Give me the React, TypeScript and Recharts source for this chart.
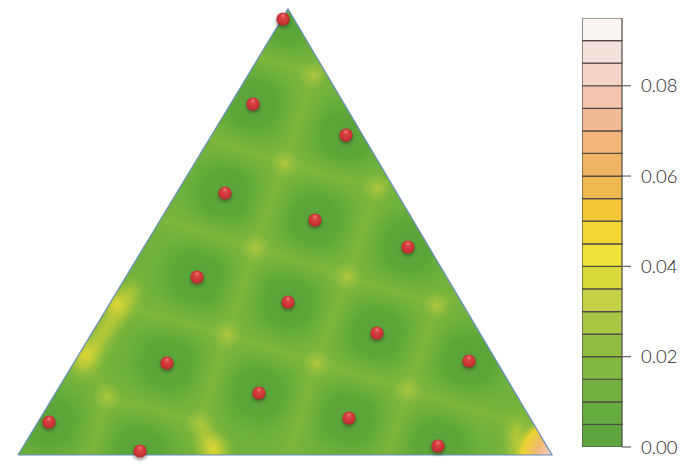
import React from "react";
import { ComposedChart, BarChart, Area, Line, Scatter, Bar, XAxis, YAxis } from "recharts";

type P = { x: number; y: number };
const pts = (a: number[][]): P[] => a.map(([x, y]) => ({ x, y }));

// Sample sites (red spheres)
const siteX = [283, 253, 346, 225, 315, 408, 197, 288, 377, 469, 167, 259, 349, 438, 49, 140];
const siteY = [19, 104, 135, 193, 220, 247, 277, 302, 333, 361, 363, 393, 418, 446, 422, 451];
const sites = siteX.map((x, i) => ({ x, y: siteY[i] }));

// Domain outline
const triangle = pts([[18, 455], [288, 9], [552, 455], [18, 455]]);
const domainFill = [
  { x: 18, range: [455, 455] },
  { x: 288, range: [455, 9] },
  { x: 552, range: [455, 455] },
];
const outsideMask = [
  { x: 0, range: [471, 0] },
  { x: 18, range: [471, 0] },
  { x: 18, range: [455, 0] },
  { x: 288, range: [9, 0] },
  { x: 552, range: [455, 0] },
  { x: 552, range: [471, 0] },
  { x: 700, range: [471, 0] },
];
const belowMask = [
  { x: 18, range: [471, 455] },
  { x: 552, range: [471, 455] },
];

// Error ridges between sites
const ridges: P[][] = [
  pts([[240, 50], [313, 75], [345, 62]]),
  pts([[313, 75], [285, 163], [255, 248], [227, 335], [200, 423], [213, 458]]),
  pts([[205, 138], [285, 163], [377, 188], [405, 172]]),
  pts([[160, 218], [255, 248], [347, 277], [437, 305], [470, 288]]),
  pts([[377, 188], [347, 277], [317, 363], [288, 458]]),
  pts([[112, 303], [227, 335], [317, 363], [408, 390], [517, 423], [540, 410]]),
  pts([[437, 305], [408, 390], [387, 458]]),
  pts([[118, 305], [87, 355], [107, 397], [200, 423]]),
  pts([[107, 397], [90, 458]]),
  pts([[517, 423], [518, 458]]),
];
const hotRidges: P[][] = [
  pts([[134, 286], [78, 372]]),
  pts([[202, 430], [218, 458]]),
  pts([[517, 425], [518, 458]]),
];

const strongGlow = pts([[285, 163], [255, 248], [227, 335], [347, 277], [317, 363], [408, 390], [313, 75], [377, 188], [437, 305], [107, 397], [200, 423]]);
const yellowGlow = pts([[116, 304], [85, 354], [214, 450]]);
const cornerGlow = pts([[552, 455]]);

// Colour bar
const barTicks = [0, 0.02, 0.04, 0.06, 0.08];
const barColors = [
  "#5ca53f", "#66ab3f", "#72b041", "#82b742", "#93bd42", "#a9c744", "#c2d146", "#d9da3c", "#efe23a", "#f3d535",
  "#f3c63a", "#f0b850", "#efb565", "#f2b67a", "#efba94", "#f3c4ae", "#f4d3c8", "#f3e2dc", "#f9f5f3",
];
const barStep = 0.005;
const barRow: Record<string, number | string> = { name: "scale" };
barColors.forEach((_, i) => { barRow["s" + i] = barStep; });

const spot = (fill: string, r: number) => (props: any) => <circle cx={props.cx} cy={props.cy} r={r} fill={`url(#${fill})`} />;

const sphere = (props: any) => (
  <g>
    <ellipse cx={props.cx} cy={props.cy + 2.5} rx={7.2} ry={6.8} fill="#3a3a20" opacity={0.45} filter="url(#soft2)" />
    <circle cx={props.cx} cy={props.cy} r={6.6} fill="url(#sphere)" />
  </g>
);

export default function App() {
  return (
    <div style={{ position: "absolute", left: 0, top: 0, width: 700, height: 471, background: "#fff" }}>
      <div style={{ position: "absolute", left: 0, top: 0 }}>
        <ComposedChart width={700} height={471} margin={{ top: 0, right: 0, bottom: 0, left: 0 }} data={domainFill}>
          <defs>
            <filter id="soft10" x="0" y="0" width="700" height="471" filterUnits="userSpaceOnUse">
              <feGaussianBlur stdDeviation="9" />
            </filter>
            <filter id="soft3" x="0" y="0" width="700" height="471" filterUnits="userSpaceOnUse">
              <feGaussianBlur stdDeviation="2" />
            </filter>
            <filter id="soft5" x="0" y="0" width="700" height="471" filterUnits="userSpaceOnUse">
              <feGaussianBlur stdDeviation="7" />
            </filter>
            <filter id="soft2" x="-50%" y="-50%" width="200%" height="200%">
              <feGaussianBlur stdDeviation="1.5" />
            </filter>
            <radialGradient id="well">
              <stop offset="0%" stopColor="#58a339" stopOpacity={1} />
              <stop offset="50%" stopColor="#5aa539" stopOpacity={0.85} />
              <stop offset="100%" stopColor="#5fa83a" stopOpacity={0} />
            </radialGradient>
            <radialGradient id="glow">
              <stop offset="0%" stopColor="#b8ca3e" stopOpacity={0.8} />
              <stop offset="100%" stopColor="#a6c43e" stopOpacity={0} />
            </radialGradient>
            <radialGradient id="yellow">
              <stop offset="0%" stopColor="#f0dc30" stopOpacity={0.75} />
              <stop offset="50%" stopColor="#d8d536" stopOpacity={0.3} />
              <stop offset="100%" stopColor="#a6c43e" stopOpacity={0} />
            </radialGradient>
            <radialGradient id="corner">
              <stop offset="0%" stopColor="#f6d2cc" />
              <stop offset="40%" stopColor="#f0b878" />
              <stop offset="78%" stopColor="#f3d52e" stopOpacity={0.95} />
              <stop offset="100%" stopColor="#c4cf3c" stopOpacity={0} />
            </radialGradient>
            <radialGradient id="sphere" cx="50%" cy="50%" r="55%" fx="50%" fy="20%">
              <stop offset="0%" stopColor="#ea8585" />
              <stop offset="32%" stopColor="#d94343" />
              <stop offset="78%" stopColor="#c93236" />
              <stop offset="100%" stopColor="#9a2428" />
            </radialGradient>
          </defs>
          <XAxis dataKey="x" type="number" domain={[0, 700]} hide allowDataOverflow />
          <YAxis dataKey="y" type="number" domain={[0, 471]} reversed hide allowDataOverflow />

          <Area dataKey="range" data={domainFill} type="linear" fill="#70b23d" fillOpacity={1} stroke="none" isAnimationActive={false} zIndex={100} />
          <Scatter data={sites} shape={spot("well", 46)} isAnimationActive={false} zIndex={110} />
          {ridges.map((r, i) => (
            <Line key={"w" + i} data={r} dataKey="y" type="linear" stroke="#8fbc3d" strokeOpacity={0.65} strokeWidth={12} dot={false} activeDot={false} filter="url(#soft10)" isAnimationActive={false} zIndex={120} />
          ))}
          {ridges.map((r, i) => (
            <Line key={"c" + i} data={r} dataKey="y" type="linear" stroke="#a3c33e" strokeOpacity={0.28} strokeWidth={2.5} dot={false} activeDot={false} filter="url(#soft3)" isAnimationActive={false} zIndex={130} />
          ))}
          <Scatter data={strongGlow} shape={spot("glow", 15)} isAnimationActive={false} zIndex={140} />
          {hotRidges.map((r, i) => (
            <Line key={"h" + i} data={r} dataKey="y" type="linear" stroke="#e6d836" strokeOpacity={0.8} strokeWidth={12} dot={false} activeDot={false} filter="url(#soft5)" isAnimationActive={false} zIndex={141} />
          ))}
          <Scatter data={yellowGlow} shape={spot("yellow", 22)} isAnimationActive={false} zIndex={142} />
          <Scatter data={cornerGlow} shape={spot("corner", 38)} isAnimationActive={false} zIndex={143} />
          <Area dataKey="range" data={outsideMask} type="linear" fill="#ffffff" fillOpacity={1} stroke="none" isAnimationActive={false} zIndex={150} />
          <Area dataKey="range" data={belowMask} type="linear" fill="#ffffff" fillOpacity={1} stroke="none" isAnimationActive={false} zIndex={151} />
          <Line data={triangle} dataKey="y" type="linear" stroke="#668cc0" strokeWidth={1.2} dot={false} activeDot={false} isAnimationActive={false} zIndex={160} />
          <Scatter data={sites} shape={sphere} isAnimationActive={false} zIndex={170} />
        </ComposedChart>
      </div>
      <div style={{ position: "absolute", left: 582, top: 0 }}>
        <BarChart width={118} height={471} data={[barRow]} margin={{ top: 18, right: 0, bottom: 24, left: 0 }} barCategoryGap={0}>
          <XAxis dataKey="name" hide />
          <YAxis
            orientation="right"
            width={78}
            domain={[0, 0.095]}
            ticks={barTicks}
            tickFormatter={(v: number) => v.toFixed(2)}
            axisLine={false}
            tickLine={{ stroke: "#6b655e", strokeWidth: 1.2 }}
            tickSize={9}
            tickMargin={10}
            tick={{ fontFamily: "Lato", fontSize: 18.5, fontWeight: 300, fill: "#1e1e1e" }}
            allowDataOverflow
          />
          {barColors.map((c, i) => (
            <Bar key={i} dataKey={"s" + i} stackId="a" fill={c} stroke="#4f4a44" strokeWidth={1.2} isAnimationActive={false} />
          ))}
        </BarChart>
      </div>
    </div>
  );
}
